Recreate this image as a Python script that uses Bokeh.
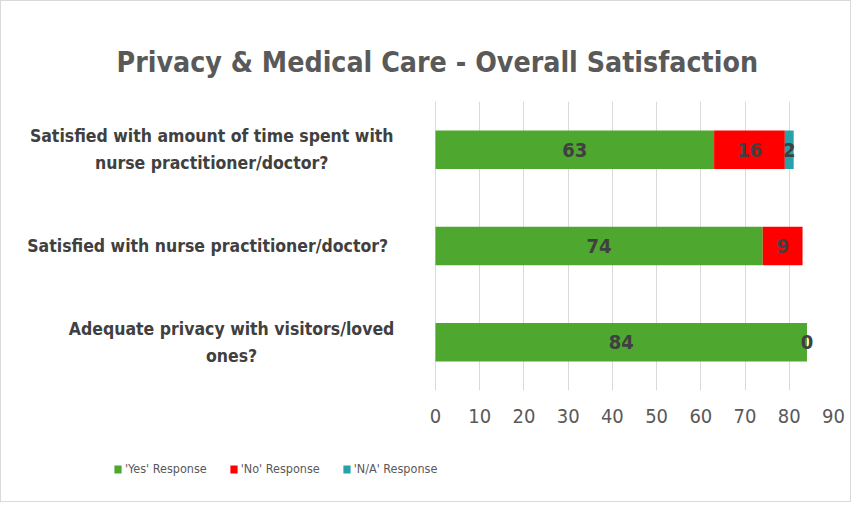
import math
from bokeh.plotting import figure
from bokeh.layouts import column
from bokeh.models import (ColumnDataSource, Legend, LegendItem,
                          FactorRange, Range1d, FixedTicker, Title)
from bokeh.core.properties import value
from bokeh.embed import file_html
from bokeh.resources import INLINE

title = "Privacy & Medical Care  - Overall Satisfaction"
categories = [
    "Satisfied with amount of time spent with\nnurse practitioner/doctor?",
    "Satisfied with nurse practitioner/doctor?",
    "Adequate privacy with visitors/loved\nones?",
]
series_names = ["'Yes' Response", "'No' Response", "'N/A' Response"]
yes_values = [63, 74, 84]
no_values = [16, 9, 0]
na_values = [2, float("nan"), float("nan")]
x_ticks = [0, 10, 20, 30, 40, 50, 60, 70, 80, 90]

colors = ["#4EA72E", "#FF0000", "#26A2A8"]
FONT = "DejaVu Sans Condensed"

# ---------------- main chart ----------------
p = figure(frame_width=827, frame_height=289, output_backend="svg", toolbar_location=None,
           y_range=FactorRange(factors=list(reversed(categories))),
           x_range=Range1d(-97, 90),
           min_border_left=5, min_border_right=17,
           min_border_top=100, min_border_bottom=45)
p.outline_line_color = None

t = Title(text=title, align="left", offset=110, text_font=FONT, text_font_size="28.3px",
          text_font_style="bold", text_color="#595959", standoff=45)
p.add_layout(t, "above")

p.yaxis.visible = False
p.ygrid.grid_line_color = None

p.xgrid.grid_line_color = "#d9d9d9"
p.xgrid.grid_line_width = 1
p.xaxis.ticker = FixedTicker(ticks=x_ticks)
p.xaxis.axis_line_color = None
p.xaxis.major_tick_line_color = None
p.xaxis.minor_tick_line_color = None
p.xaxis.major_label_text_font = FONT
p.xaxis.major_label_text_font_size = "20px"
p.xaxis.major_label_text_color = "#595959"
p.xaxis.major_label_standoff = 12

src = ColumnDataSource(dict(cat=categories, yes=yes_values, no=no_values, na=na_values))
p.hbar_stack(["yes", "no", "na"], y="cat", height=0.4, color=colors,
             source=src, line_color=None)

lab_x, lab_y, lab_t = [], [], []
for i, c in enumerate(categories):
    base = 0.0
    for v in (yes_values[i], no_values[i], na_values[i]):
        if v is None or (isinstance(v, float) and math.isnan(v)):
            continue
        lab_x.append(base + v / 2.0)
        lab_y.append(c)
        lab_t.append(str(int(v)))
        base += v
lsrc = ColumnDataSource(dict(x=lab_x, y=lab_y, t=lab_t))
p.text(x="x", y="y", text="t", source=lsrc, text_align="center",
       text_baseline="middle", text_font=value(FONT), text_font_size="20px",
       text_font_style="bold", text_color="#404040")

label_centres = [-50.6, -51.5, -46.1]
csrc = ColumnDataSource(dict(x=label_centres, y=categories, t=categories))
p.text(x="x", y="y", text="t", source=csrc, text_align="center",
       text_baseline="middle", text_font=value(FONT), text_font_size="17.5px",
       text_font_style="bold", text_color="#404040", text_line_height=1.35)

# ---------------- legend strip ----------------
p2 = figure(width=849, height=66, output_backend="svg", toolbar_location=None,
            x_range=Range1d(0, 1), y_range=Range1d(0, 1),
            min_border_left=0, min_border_right=0, min_border_top=0, min_border_bottom=0)
p2.axis.visible = False
p2.grid.visible = False
p2.outline_line_color = None
# legend proxies, placed outside the visible range of this strip
leg_renderers = [p2.hbar(y=[-5], left=[0], right=[1], height=0.4, color=c, line_color=None)
                 for c in colors]
legend = Legend(items=[LegendItem(label=n, renderers=[r]) for n, r in zip(series_names, leg_renderers)],
                orientation="horizontal", location=(107, 25),
                glyph_width=9, glyph_height=10, label_standoff=3, spacing=22,
                padding=0, margin=0,
                label_text_font=FONT, label_text_font_size="12.5px",
                label_text_color="#595959", background_fill_alpha=0,
                border_line_color=None)
p2.add_layout(legend, "center")

layout = column(p, p2, spacing=0, styles={"border": "1px solid #d9d9d9"})
open("out.html", "w").write(file_html(layout, INLINE))
